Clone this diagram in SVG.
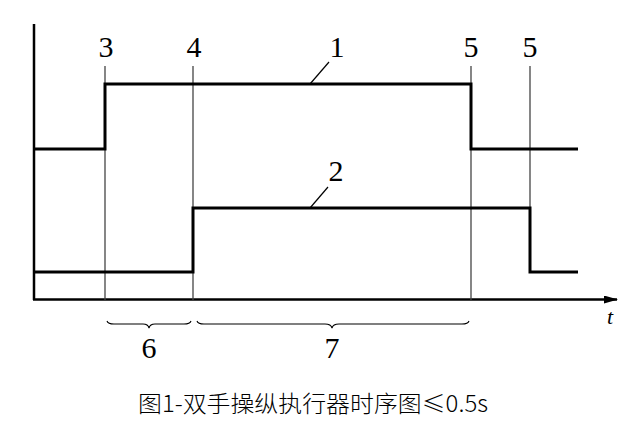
<svg xmlns="http://www.w3.org/2000/svg" width="627" height="438" viewBox="0 0 627 438">
<style>
.sig{fill:none;stroke:#000;stroke-width:3;stroke-linejoin:miter}
.ax{fill:none;stroke:#000;stroke-width:2.5}
.thin{fill:none;stroke:#444;stroke-width:1.3}
.lead{fill:none;stroke:#000;stroke-width:1.2}
.br{fill:none;stroke:#000;stroke-width:1.1}
.lbl{font-family:"Liberation Serif","DejaVu Serif",serif;font-size:30px;text-anchor:middle;fill:#000}
.cap{font-family:"Noto Sans CJK SC","Noto Sans",sans-serif;font-size:23px;font-weight:300;text-anchor:middle;fill:#000}
</style>
<defs>
<marker id="arr" markerWidth="14" markerHeight="8" refX="13" refY="4" orient="auto" markerUnits="userSpaceOnUse">
<path d="M0,0 L14,4 L0,8 Z" fill="#000"/>
</marker>
</defs>
<rect width="627" height="438" fill="#fff"/>
<g id="axes">
<line class="ax" x1="34" y1="24" x2="34" y2="300"/>
<line class="ax" x1="33" y1="299.5" x2="617" y2="299.5" marker-end="url(#arr)"/>
<text x="610" y="324" font-family="Liberation Serif,serif" font-style="italic" font-size="22" text-anchor="middle">t</text>
</g>
<g id="markers">
<line class="thin" x1="105" y1="66" x2="105" y2="300"/>
<line class="thin" x1="193" y1="66" x2="193" y2="300"/>
<line class="thin" x1="471" y1="66" x2="471" y2="300"/>
<line class="thin" x1="530" y1="66" x2="530" y2="272"/>
<text class="lbl" x="106" y="57">3</text>
<text class="lbl" x="194" y="57">4</text>
<text class="lbl" x="471" y="57">5</text>
<text class="lbl" x="530" y="57">5</text>
</g>
<g id="signal1">
<polyline class="sig" points="34,149 105,149 105,84 471,84 471,149 578,149"/>
<line class="lead" x1="310" y1="84" x2="329" y2="62"/>
<text class="lbl" x="337" y="57">1</text>
</g>
<g id="signal2">
<polyline class="sig" points="34,272 193,272 193,208 530,208 530,272 578,272"/>
<line class="lead" x1="310" y1="208" x2="328" y2="187"/>
<text class="lbl" x="336" y="181">2</text>
</g>
<g id="brace6">
<path class="br" d="M107,321 Q108,324 114,324 L143,324 Q148,324 149,328 Q150,324 155,324 L184,324 Q190,324 191,321"/>
<text class="lbl" x="149" y="358">6</text>
</g>
<g id="brace7">
<path class="br" d="M197,321 Q198,324 204,324 L325,324 Q331,324 332,328 Q333,324 339,324 L462,324 Q468,324 469,321"/>
<text class="lbl" x="332" y="358">7</text>
</g>
<text class="cap" x="313" y="412" textLength="350" lengthAdjust="spacingAndGlyphs">图1-双手操纵执行器时序图≤0.5s</text>
</svg>
